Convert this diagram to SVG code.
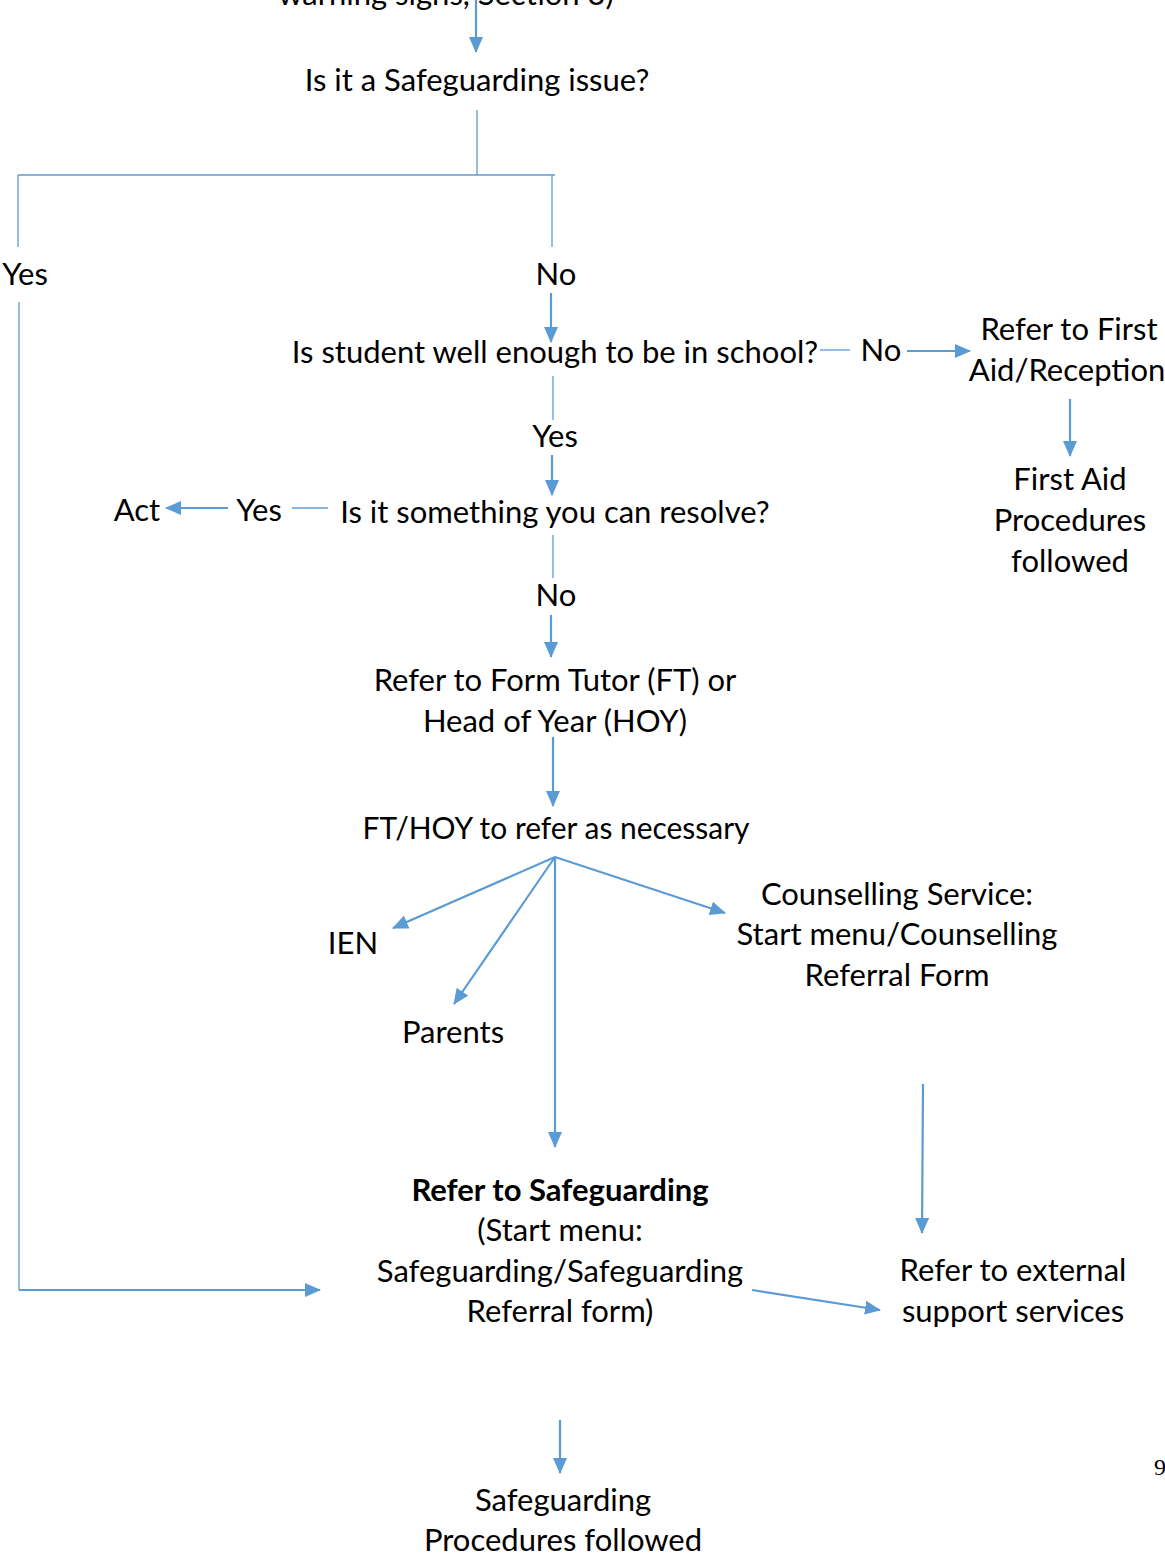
<svg xmlns="http://www.w3.org/2000/svg" width="1165" height="1557" viewBox="0 0 1165 1557">
<style>
text{font-family:Lato,"Open Sans","Liberation Sans",sans-serif;font-size:31px;fill:#000;text-anchor:middle}
.b{font-weight:bold}
.thin{stroke:#5B9BD5;stroke-width:1.3;fill:none}
.arr{stroke:#5B9BD5;stroke-width:2.2;fill:none;marker-end:url(#ah)}
.pg{font-family:"Liberation Serif",serif;font-size:24px;text-anchor:start}
</style>
<defs>
<marker id="ah" markerUnits="userSpaceOnUse" markerWidth="16" markerHeight="14" refX="15" refY="7" orient="auto">
<path d="M0,0 L16,7 L0,14 Z" fill="#5B9BD5"/>
</marker>
</defs>
<rect width="1165" height="1557" fill="#fff"/>
<g id="connectors">
<path class="arr" d="M476,0 V52"/>
<path class="thin" d="M477,110 V175"/>
<path class="thin" d="M18,175 H555"/>
<path class="thin" d="M18,175 V247"/>
<path class="thin" d="M552,175 V247"/>
<path class="thin" d="M19,302 V1290"/>
<path class="arr" d="M19,1290 H320"/>
<path class="arr" d="M551,293 V342"/>
<path class="thin" d="M820,350 H850"/>
<path class="arr" d="M907,351 H970"/>
<path class="arr" d="M1070,399 V456"/>
<path class="thin" d="M553,376 V420"/>
<path class="arr" d="M552,455 V495"/>
<path class="thin" d="M292,508 H328"/>
<path class="arr" d="M228,508 H166"/>
<path class="thin" d="M553,535 V578"/>
<path class="arr" d="M551,615 V657"/>
<path class="arr" d="M553,737 V806"/>
<path class="arr" d="M555,857 L393,928"/>
<path class="arr" d="M555,857 L454,1004"/>
<path class="arr" d="M555,857 L725,913"/>
<path class="arr" d="M555,857 V1147"/>
<path class="arr" d="M923,1084 L922,1233"/>
<path class="arr" d="M752,1290 L880,1310"/>
<path class="arr" d="M560,1420 V1473"/>
</g>
<g id="n-top"><text x="446" y="5">warning signs, Section 3)</text></g>
<g id="n-safeissue"><text x="477" y="91">Is it a Safeguarding issue?</text></g>
<g id="n-yes1"><text x="25" y="285">Yes</text></g>
<g id="n-no1"><text x="556" y="285">No</text></g>
<g id="n-well"><text x="555" y="363">Is student well enough to be in school?</text></g>
<g id="n-no2"><text x="881" y="361">No</text></g>
<g id="n-firstaid"><text x="1069" y="340">Refer to First</text><text x="1067" y="381">Aid/Reception</text></g>
<g id="n-faproc"><text x="1070" y="490">First Aid</text><text x="1070" y="531">Procedures</text><text x="1070" y="572">followed</text></g>
<g id="n-yes2"><text x="555" y="447">Yes</text></g>
<g id="n-resolve"><text x="555" y="523">Is it something you can resolve?</text></g>
<g id="n-yes3"><text x="259" y="521">Yes</text></g>
<g id="n-act"><text x="137" y="521">Act</text></g>
<g id="n-no3"><text x="556" y="606">No</text></g>
<g id="n-ft"><text x="555" y="691">Refer to Form Tutor (FT) or</text><text x="555" y="732">Head of Year (HOY)</text></g>
<g id="n-fthoy"><text x="556" y="839" textLength="387" lengthAdjust="spacingAndGlyphs">FT/HOY to refer as necessary</text></g>
<g id="n-ien"><text x="353" y="954">IEN</text></g>
<g id="n-parents"><text x="453" y="1043">Parents</text></g>
<g id="n-counsel"><text x="897" y="905">Counselling Service:</text><text x="897" y="945">Start menu/Counselling</text><text x="897" y="986">Referral Form</text></g>
<g id="n-safeguard"><text class="b" x="560" y="1201">Refer to Safeguarding</text><text x="560" y="1241">(Start menu:</text><text x="560" y="1282">Safeguarding/Safeguarding</text><text x="560" y="1322">Referral form)</text></g>
<g id="n-external"><text x="1013" y="1281">Refer to external</text><text x="1013" y="1322">support services</text></g>
<g id="n-sgproc"><text x="563" y="1511">Safeguarding</text><text x="563" y="1551">Procedures followed</text></g>
<g id="n-page"><text class="pg" x="1154" y="1475">9</text></g>
</svg>
